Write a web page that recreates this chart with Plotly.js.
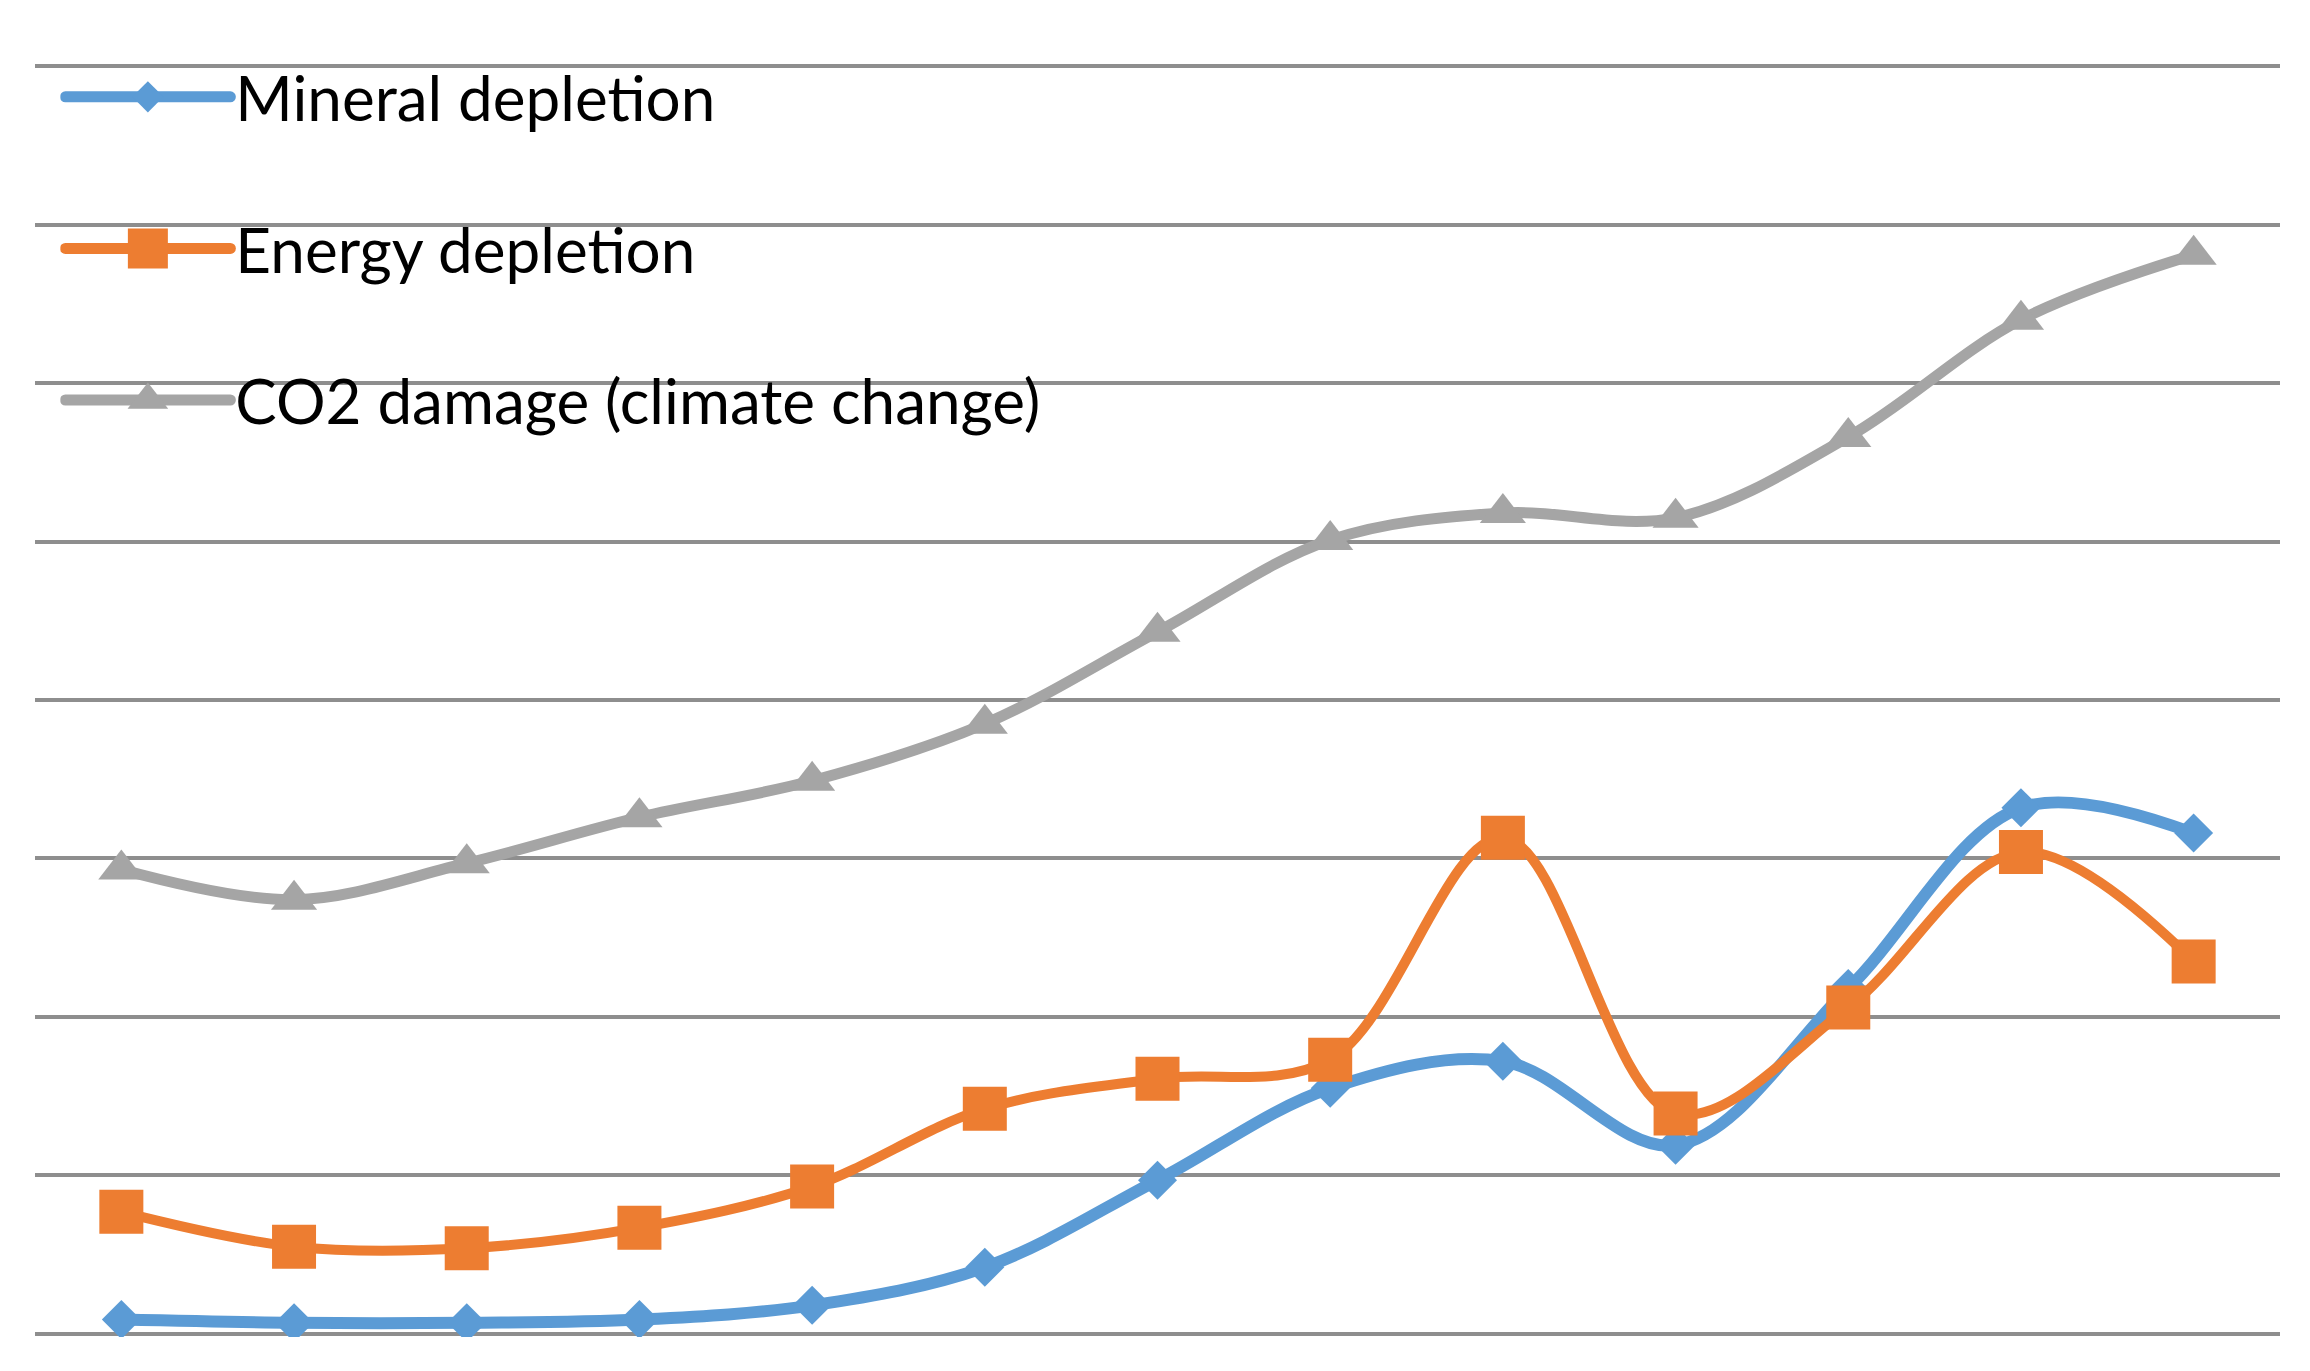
<!DOCTYPE html>
<html>
<head>
<meta charset="utf-8">
<script src="https://cdn.plot.ly/plotly-3.0.1.min.js"></script>
<style>
  html, body { margin: 0; padding: 0; background: #ffffff; }
  #chart { width: 2310px; height: 1371px; }
</style>
</head>
<body>
<div id="chart"></div>
<script>
// categories (no labels shown in the original, just 13 evenly spaced points)
var categories = [0, 1, 2, 3, 4, 5, 6, 7, 8, 9, 10, 11, 12];

// values (one gridline = 1 unit, 0..8)
var mineral = [0.09, 0.07, 0.07, 0.09, 0.18, 0.42, 0.97, 1.55, 1.72, 1.19, 2.18, 3.32, 3.16];
var energy  = [0.77, 0.55, 0.54, 0.67, 0.93, 1.42, 1.61, 1.73, 3.13, 1.39, 2.06, 3.04, 2.35];
var co2     = [2.93, 2.74, 2.97, 3.26, 3.49, 3.85, 4.43, 5.01, 5.18, 5.15, 5.66, 6.40, 6.81];

var names = ["Mineral depletion", "Energy depletion", "CO2 damage (climate change)"];

// how much the legend symbols get blown up (plotly caps legend markers at 16px)
var legendScale = [1.5, 2.5, 2.2];

function series(y, name, color, width, symbol, size, group)
{
	return {
		x: categories,
		y: y,
		name: name,
		type: 'scatter',
		mode: 'lines+markers',
		legendgroup: group,
		line: { color: color, width: width, shape: 'spline', smoothing: 1 },
		marker: { color: color, symbol: symbol, size: size, line: { width: 0 } }
	};
}

var traces = [
	series(mineral, names[0], '#5b9bd5', 12, 'diamond', 30, 'a'),
	series(energy,  names[1], '#ed7d31', 10, 'square', 44, 'b'),
	series(co2,     names[2], '#a5a5a5', 11, 'triangle-up', 40, 'c')
];

var layout = {
	width: 2310,
	height: 1371,
	margin: { l: 35, r: 30, t: 63, b: 34 },
	paper_bgcolor: '#ffffff',
	plot_bgcolor: '#ffffff',
	font: { family: 'Lato, "Open Sans", sans-serif', color: '#000000' },
	showlegend: true,
	legend: {
		x: 0.0113,
		xanchor: 'left',
		y: 1.0102,
		yanchor: 'top',
		bgcolor: 'rgba(0,0,0,0)',
		font: { size: 62, color: '#000000' },
		itemwidth: 165,
		tracegroupgap: 68,
		traceorder: 'grouped'
	},
	xaxis: {
		range: [-0.5, 12.5],
		showgrid: false,
		zeroline: false,
		showticklabels: false,
		showline: false,
		ticks: ''
	},
	yaxis: {
		range: [-0.02, 8.02],
		tick0: 0,
		dtick: 1,
		showgrid: true,
		gridcolor: '#8e8e8e',
		gridwidth: 4,
		zeroline: false,
		showticklabels: false,
		showline: false,
		ticks: ''
	}
};

Plotly.newPlot('chart', traces, layout, { staticPlot: true, displayModeBar: false }).then(function(gd)
{
	// thicker legend lines and bigger legend markers, like the original
	var items = gd.querySelectorAll('.legend .traces');
	for (var i = 0; i < items.length; i++) {
		var lines = items[i].querySelectorAll('.legendlines path');
		for (var j = 0; j < lines.length; j++) {
			lines[j].style.strokeWidth = '11px';
			lines[j].style.strokeLinecap = 'round';
		}
		var pts = items[i].querySelectorAll('.legendpoints path');
		for (var k = 0; k < pts.length; k++) {
			var t = pts[k].getAttribute('transform') || '';
			pts[k].setAttribute('transform', t + ' scale(' + legendScale[i] + ')');
		}
	}
});
</script>
</body>
</html>
